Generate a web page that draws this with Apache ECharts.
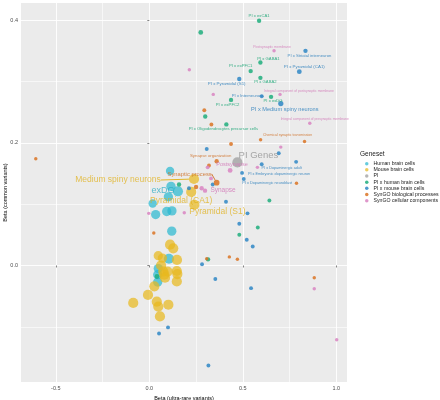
<!DOCTYPE html>
<html><head><meta charset="utf-8">
<script src="https://cdn.jsdelivr.net/npm/echarts@6/dist/echarts.min.js"></script>
<style>html,body{margin:0;padding:0;background:#fff}#c{width:440px;height:400px}</style>
</head><body><div id="c"></div>
<script>
// ---- data: [beta ultra-rare, beta common, point-size variable, label] ----
const genesetNames = ['Human brain cells','Mouse brain cells','PI','PI x human brain cells','PI x mouse brain cells','SynGO biological processes','SynGO cellular components'];
const xTicks = [-0.5, 0.0, 0.5, 1.0];
const yTicks = [0.0, 0.2, 0.4];
const xMinorTicks = [-0.25, 0.25, 0.75];
const yMinorTicks = [-0.1, 0.1, 0.3];

const humanBrainCells = [
  [0.111,0.154,7,''],[0.116,0.129,8,''],[0.153,0.121,9,'exDG'],[0.102,0.112,8,''],
  [0.018,0.101,7,''],[0.034,0.083,8,''],[0.093,0.088,8,''],[0.121,0.089,8,''],
  [0.120,0.056,8,''],[0.105,0.011,9,''],[0.048,-0.005,8,''],[0.045,-0.015,8,''],[0.045,-0.027,8,'']
];
const mouseBrainCells = [
  [0.239,0.141,9,'Medium spiny neurons'],[0.224,0.120,9,'Pyramidal (CA1)'],[0.241,0.099,9,'Pyramidal (S1)'],
  [0.111,0.034,9,''],[0.128,0.028,9,''],[0.048,0.016,8,''],[0.070,0.012,8,''],[0.148,0.009,9,''],
  [0.063,0.000,9,''],[0.075,-0.010,9,''],[0.098,-0.010,9,''],[0.147,-0.009,9,''],[0.150,-0.014,9,''],
  [0.080,-0.015,9,''],[0.084,-0.020,9,''],[0.147,-0.026,9,''],[0.027,-0.034,9,''],[-0.007,-0.048,9,''],
  [-0.086,-0.061,9,''],[0.040,-0.059,9,''],[0.102,-0.064,9,''],[0.048,-0.067,9,''],[0.057,-0.083,9,'']
];
const piGenes = [[0.471,0.168,9,'PI Genes']];
const piHuman = [
  [0.587,0.399,2.5,'PI x exCA1'],[0.275,0.380,3,''],[0.594,0.331,2.5,'PI x GABA1'],[0.542,0.317,2.5,'PI x exPFC1'],
  [0.594,0.306,2.5,'PI x GABA2'],[0.651,0.275,2.5,'PI x exDG'],[0.437,0.270,2.5,'PI x exPFC2'],[0.299,0.243,2.5,''],
  [0.412,0.230,2.5,'PI x Oligodendrocytes precursor cells'],[0.642,0.106,2,''],[0.580,0.062,2,''],[0.481,0.050,2,''],
  [0.159,0.132,2.5,''],[0.314,0.010,2.5,''],[0.041,-0.018,3,'']
];
const piMouse = [
  [0.835,0.350,2.5,'PI x Striatal interneuron'],[0.802,0.316,3,'PI x Pyramidal (CA1)'],[0.481,0.304,2.5,'PI x Pyramidal (S1)'],
  [0.601,0.276,2,'PI x Interneurons'],[0.703,0.264,3.5,'PI x Medium spiny neurons'],[0.307,0.190,2,''],[0.692,0.183,2,''],
  [0.601,0.165,2,'PI x Dopaminergic adult'],[0.496,0.151,2,'PI x Embryonic dopaminergic neuron'],[0.505,0.141,2,'PI x Dopaminergic neuroblast'],
  [0.785,0.169,2,''],[0.339,0.132,2,''],[0.212,0.126,2,''],[0.410,0.104,2,''],[0.525,0.085,2,''],[0.481,0.068,2,''],
  [0.521,0.042,2,''],[0.553,0.031,2,''],[0.282,0.002,2,''],[0.353,-0.022,2,''],[0.544,-0.037,2,''],[0.316,-0.163,2,''],
  [0.100,-0.101,2,''],[0.052,-0.111,2,'']
];
const synBio = [
  [0.595,0.205,1.5,'Chemical synaptic transmission'],[0.830,0.202,1.5,''],[0.437,0.198,2,''],[0.294,0.253,2,''],
  [0.332,0.230,2,''],[0.360,0.170,2.5,'Synapse organization'],[0.319,0.163,2,''],[0.360,0.135,4,'Synaptic process'],
  [0.250,0.128,2.5,''],[0.787,0.134,1.5,''],[-0.607,0.174,1.5,''],[0.024,0.053,1.5,''],[0.307,0.011,1.5,''],
  [0.428,0.014,1.5,''],[0.471,0.010,1.5,''],[0.882,-0.020,1.5,'']
];
const synCell = [
  [0.667,0.350,1.5,'Postsynaptic membrane'],[0.214,0.319,1.5,''],[0.342,0.279,1.5,''],
  [0.699,0.279,1.5,'Integral component of postsynaptic membrane'],[0.858,0.232,1.5,'Integral component of presynaptic membrane'],
  [0.703,0.193,1.5,''],[0.578,0.160,1.5,''],[0.312,0.160,2,''],[0.432,0.155,3,'Postsynapse'],[0.330,0.142,2,''],
  [0.280,0.126,2.5,''],[0.298,0.122,2.5,'Synapse'],[-0.003,0.085,1.5,''],[0.187,0.086,1.5,''],
  [0.882,-0.038,1.5,''],[1.002,-0.121,1.5,'']
];

// ---- styling ----
const FONT = '"Liberation Sans", Arial, sans-serif';
const labelCfg = {
  'exDG':[-15,-1,9],
  'Medium spiny neurons':[-76,1,8.5,true],
  'Pyramidal (CA1)':[-10,9,8.5],
  'Pyramidal (S1)':[23,7,8.5],
  'PI Genes':[21,-7,9.5],
  'PI x exCA1':[0,-5,4.2],
  'PI x GABA1':[8,-4,4.2],
  'PI x exPFC1':[-10,-5,4.2],
  'PI x GABA2':[5,4,4.2],
  'PI x exDG':[2,4,4.2],
  'PI x exPFC2':[-3.5,4.5,4.2],
  'PI x Oligodendrocytes precursor cells':[-3,4.5,4.2],
  'PI x Striatal interneuron':[4,5,4.2],
  'PI x Pyramidal (CA1)':[5,-4.5,4.4],
  'PI x Pyramidal (S1)':[-12.6,4.5,4.4],
  'PI x Interneurons':[-14,0,4.2],
  'PI x Medium spiny neurons':[4,5.5,5.6],
  'PI x Dopaminergic adult':[20,4,3.8],
  'PI x Embryonic dopaminergic neuron':[37,1,3.8],
  'PI x Dopaminergic neuroblast':[23.5,3.5,3.8],
  'Chemical synaptic transmission':[27,-4.5,3.5],
  'Synapse organization':[-6,-5,4.3],
  'Synaptic process':[-27,-8.7,5.8,true],
  'Postsynaptic membrane':[-2,-4,3.5],
  'Integral component of postsynaptic membrane':[19,-3,3.4],
  'Integral component of presynaptic membrane':[5,-4,3.4],
  'Postsynapse':[2,-6,5.5],
  'Synapse':[18,0,6.5]
};
const colors = ['#2BB8D0','#E8B91E','#9A9A9A','#1FAE7C','#2F87C6','#DB7424','#D985C2'];
const labelColors = ['#1FA9C4','#E0AF12','#8A8A8A','#17A473','#2C7FBC','#CF6E25','#D27AB9'];
const sizeScale = v => 3 + (v - 1) * 0.9;

function mkSeries(i, pts){
  return {
    type:'scatter', name: genesetNames[i],
    symbolSize: v => sizeScale(v[2]),
    itemStyle:{color: colors[i], opacity: (i<=2)?0.72:0.85},
    emphasis:{disabled:true},
    data: pts.map(p=>{
      const item = {value:[p[0],p[1],p[2]], name:p[3]};
      if (p[3]) {
        const c = labelCfg[p[3]];
        item.label = {show:true, formatter:p[3], position:'inside', fontSize:c[2], color:labelColors[i],
          fontFamily:FONT, align:'center', verticalAlign:'middle'};
        if (c[3]) item.labelLine = {show:true, lineStyle:{color:labelColors[i], width:0.9}};
      }
      return item;
    }),
    labelLayout: params => {
      const c = labelCfg[params.text];
      return c ? {dx:c[0], dy:c[1]} : {};
    }
  };
}

const chart = echarts.init(document.getElementById('c'), null, {renderer:'canvas'});
const axisLbl = {fontSize:5.5, color:'#4d4d4d', fontFamily:FONT};
chart.setOption({
  animation:false,
  textStyle:{fontFamily:FONT},
  title:{text:'Geneset', left:360, top:151, padding:0, textStyle:{fontSize:6.5, fontWeight:'normal', color:'#1a1a1a', fontFamily:FONT}},
  legend:{orient:'vertical', left:365, top:160.6, padding:0, icon:'circle', itemWidth:3.5, itemHeight:3.5, itemGap:0,
    selectedMode:false, data:genesetNames,
    textStyle:{fontSize:5.2, lineHeight:6.17, color:'#1a1a1a', fontFamily:FONT}},
  grid:{left:21, right:93, top:3, bottom:18, outerBoundsMode:'none', containLabel:false,
    show:true, backgroundColor:'#EBEBEB', borderWidth:0},
  xAxis:[
    {type:'value', min:-0.686, max:1.057,
     name:'Beta (ultra-rare variants)', nameLocation:'middle', nameGap:13, nameMoveOverlap:false,
     nameTextStyle:{fontSize:5.5, color:'#000', fontFamily:FONT},
     axisLine:{show:false},
     axisTick:{show:true, length:2, customValues:xTicks, lineStyle:{color:'#333', width:0.6}},
     axisLabel:Object.assign({customValues:xTicks, margin:3, formatter:v=>v.toFixed(1)}, axisLbl),
     splitLine:{show:true, lineStyle:{color:'#fff', width:0.9}}},
    {type:'value', min:-0.686, max:1.057, position:'bottom',
     axisLine:{show:false}, axisLabel:{show:false, customValues:xMinorTicks},
     axisTick:{show:true, length:0.01, customValues:xMinorTicks, lineStyle:{color:'rgba(0,0,0,0)'}},
     splitLine:{show:true, lineStyle:{color:'#ffffff', width:0.6}}}
  ],
  yAxis:[
    {type:'value', min:-0.19, max:0.428,
     name:'Beta (common variants)', nameLocation:'middle', nameGap:13, nameRotate:90, nameMoveOverlap:false,
     nameTextStyle:{fontSize:5.5, color:'#000', fontFamily:FONT},
     axisLine:{show:false},
     axisTick:{show:true, length:2, customValues:yTicks, lineStyle:{color:'#333', width:0.6}},
     axisLabel:Object.assign({customValues:yTicks, margin:3, formatter:v=>v.toFixed(1)}, axisLbl),
     splitLine:{show:true, lineStyle:{color:'#fff', width:0.9}}},
    {type:'value', min:-0.19, max:0.428, position:'left',
     axisLine:{show:false}, axisLabel:{show:false, customValues:yMinorTicks},
     axisTick:{show:true, length:0.01, customValues:yMinorTicks, lineStyle:{color:'rgba(0,0,0,0)'}},
     splitLine:{show:true, lineStyle:{color:'#ffffff', width:0.6}}}
  ],
  series:[
    mkSeries(0, humanBrainCells),
    mkSeries(1, mouseBrainCells),
    mkSeries(2, piGenes),
    mkSeries(3, piHuman),
    mkSeries(4, piMouse),
    mkSeries(5, synBio),
    mkSeries(6, synCell)
  ]
});
</script></body></html>
